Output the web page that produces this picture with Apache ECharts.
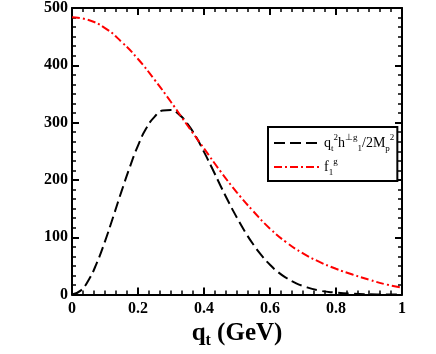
<!DOCTYPE html>
<html>
<head>
<meta charset="utf-8">
<script src="https://cdn.jsdelivr.net/npm/echarts@6/dist/echarts.min.js"></script>
<style>
html,body{margin:0;padding:0;background:#fff;}
#c{width:436px;height:354px;}
</style>
</head>
<body>
<div id="c"></div>
<script>
// x-axis ticks
var xTicks = [0, 0.2, 0.4, 0.6, 0.8, 1];
var yTicks = [0, 100, 200, 300, 400, 500];

// f1^g (red dash-dot)
var qRed = [0, 0.05, 0.1, 0.15, 0.2, 0.25, 0.3, 0.35, 0.4, 0.45, 0.5, 0.55, 0.6, 0.65, 0.7, 0.75, 0.8, 0.85, 0.9, 0.95, 1.0];
var fRed = [484, 479, 465, 441, 411, 375, 336, 295, 255, 215, 178, 145, 115, 91, 72, 57, 45, 35, 26, 18, 12];

// q_t^2 h1perp g / 2Mp^2 (black dashed)
var qBlack = [0, 0.025, 0.05, 0.075, 0.1, 0.125, 0.15, 0.175, 0.2, 0.225, 0.25, 0.275, 0.3, 0.325, 0.35, 0.375, 0.4, 0.425, 0.45, 0.475, 0.5, 0.525, 0.55, 0.575, 0.6, 0.625, 0.65, 0.675, 0.7, 0.75, 0.8, 0.85, 0.9, 0.95, 1.0];
var hBlack = [0, 6.5, 25, 55, 93, 136, 180, 222, 260, 290, 310, 321, 322, 314, 298, 276, 249, 220, 190, 161, 134, 109, 87, 68, 52, 39, 29, 21, 15, 7, 3.5, 1.5, 0.6, 0.2, 0.1];

var nameBlack = 'qh';
var nameRed = 'f';

function pairs(xs, ys){ return xs.map(function(x,i){ return [x, ys[i]]; }); }

var serif = 'Liberation Serif';
var chart = echarts.init(document.getElementById('c'));

var axisLineStyle = {color:'#000', width:2};
function xAx(pos, showLabel){
  return {
    type:'value', min:xTicks[0], max:xTicks[xTicks.length-1], interval:0.2, position:pos,
    axisLine:{show:true, onZero:false, lineStyle:axisLineStyle},
    axisTick:{show:true, inside:true, length:7, lineStyle:{color:'#000', width:2}},
    minorTick:{show:true, splitNumber:6, length:4, lineStyle:{color:'#000', width:1.5}},
    splitLine:{show:false},
    axisLabel:{show:showLabel, color:'#000', fontFamily:serif, fontWeight:'bold', fontSize:16, margin:6},
    name: showLabel ? '{q|q}{t|t}{g| (GeV)}' : '',
    nameLocation:'middle', nameGap:18,
    nameTextStyle:{rich:{
      q:{fontFamily:serif, fontWeight:'bold', fontSize:25, color:'#000', lineHeight:30, verticalAlign:'middle'},
      t:{fontFamily:serif, fontWeight:'bold', fontSize:16, color:'#000', lineHeight:30, verticalAlign:'bottom'},
      g:{fontFamily:serif, fontWeight:'bold', fontSize:25, color:'#000', lineHeight:30, verticalAlign:'middle'}
    }}
  };
}
function yAx(pos, showLabel){
  return {
    type:'value', min:yTicks[0], max:yTicks[yTicks.length-1], interval:100, position:pos,
    axisLine:{show:true, onZero:false, lineStyle:axisLineStyle},
    axisTick:{show:true, inside:true, length:7, lineStyle:{color:'#000', width:2}},
    minorTick:{show:true, splitNumber:6, length:4, lineStyle:{color:'#000', width:1.5}},
    splitLine:{show:false},
    axisLabel:{show:showLabel, color:'#000', fontFamily:serif, fontWeight:'bold', fontSize:16, margin:4}
  };
}

var main = {fontFamily:serif, fontSize:14, color:'#000', lineHeight:20, verticalAlign:'middle'};
var sup = {fontFamily:serif, fontSize:9, color:'#000', lineHeight:20, verticalAlign:'top'};
var sub = {fontFamily:serif, fontSize:9, color:'#000', lineHeight:20, verticalAlign:'bottom'};

chart.setOption({
  animation:false,
  backgroundColor:'#fff',
  grid:{left:72, right:34, top:7, bottom:56},
  xAxis:[xAx('bottom', true), xAx('top', false)],
  yAxis:[yAx('left', true), yAx('right', false)],
  legend:{
    left:268, top:127, orient:'vertical',
    itemWidth:45, itemHeight:10, itemGap:4,
    padding:[6, 3, 4, 5],
    borderColor:'#000', borderWidth:2, backgroundColor:'#fff',
    itemStyle:{opacity:0},
    data:[nameBlack, nameRed],
    formatter:function(n){
      if(n===nameBlack) return '{m|q}{b|t}{p|2}{m|h}{p|⊥g}{b|1}{m|/2M}{b|p}{p|2}';
      return '{m|f}{b|1}{p|g}';
    },
    textStyle:{rich:{m:main, p:sup, b:sub}}
  },
  series:[
    {name:nameBlack, type:'line', xAxisIndex:0, yAxisIndex:0, data:pairs(qBlack,hBlack),
     showSymbol:false, symbol:'none', smooth:true,
     lineStyle:{color:'#000', width:2, type:[11,5]}, itemStyle:{color:'#000'}},
    {name:nameRed, type:'line', xAxisIndex:0, yAxisIndex:0, data:pairs(qRed,fRed),
     showSymbol:false, symbol:'none', smooth:true,
     lineStyle:{color:'#ff0000', width:2, type:[8,3,2,3]}, itemStyle:{color:'#ff0000'}}
  ]
});
</script>
</body>
</html>
